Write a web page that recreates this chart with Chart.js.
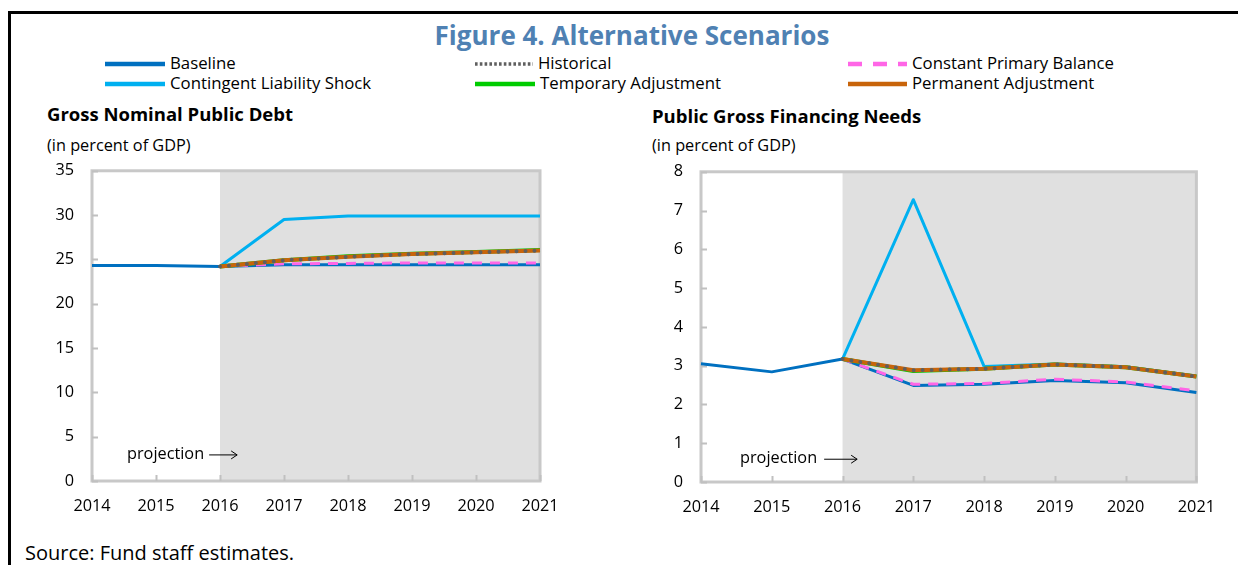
<!DOCTYPE html>
<html>
<head>
<meta charset="utf-8">
<script src="https://cdn.jsdelivr.net/npm/chart.js@4.4.1/dist/chart.umd.min.js"></script>
<style>
  html, body { margin:0; padding:0; background:#fff; }
  body { width:1238px; height:565px; position:relative; overflow:hidden; font-family:"Open Sans", sans-serif; color:#000; }
  .frame { position:absolute; left:8px; top:11px; width:1240px; height:560px; border-top:3px solid #000; border-left:3px solid #000; box-sizing:border-box; }
  .abs { position:absolute; white-space:nowrap; }
  .title { left:0; width:1264px; text-align:center; top:17px; font-size:26px; font-weight:700; color:#4f81b3; line-height:36px; }
  .leg { font-size:16.8px; line-height:20px; }
  .sub { font-size:18.5px; font-weight:700; line-height:22px; }
  .unit { font-size:16.3px; line-height:20px; }
  .src { font-size:20px; line-height:24px; }
  .box { position:absolute; }
</style>
</head>
<body>
<div class="frame"></div>
<div class="abs title">Figure 4. Alternative Scenarios</div>
<div id="legend"></div>

<div class="abs sub" style="left:47px; top:103px;">Gross Nominal Public Debt</div>
<div class="abs unit" style="left:47px; top:135px;">(in percent of GDP)</div>
<div class="abs sub" style="left:652px; top:105px;">Public Gross Financing Needs</div>
<div class="abs unit" style="left:652px; top:135px;">(in percent of GDP)</div>
<div class="abs src" style="left:25px; top:541px;">Source: Fund staff estimates.</div>

<div class="box" style="left:0px; top:143px; width:580px; height:387px;"><canvas id="c1"></canvas></div>
<div class="box" style="left:600px; top:144px; width:631px; height:386px;"><canvas id="c2"></canvas></div>

<script>
// ---------- DATA ----------
const years = ['2014','2015','2016','2017','2018','2019','2020','2021'];
const seriesNames = ['Baseline','Historical','Constant Primary Balance','Contingent Liability Shock','Temporary Adjustment','Permanent Adjustment'];

// Gross Nominal Public Debt (percent of GDP)
const debtBaseline    = [24.3, 24.3, 24.2, 24.4, 24.4, 24.4, 24.4, 24.4];
const debtHistorical  = [null, null, 24.2, 24.9, 25.3, 25.6, 25.8, 26.0];
const debtCPB         = [null, null, 24.2, 24.5, 24.55, 24.6, 24.6, 24.6];
const debtContingent  = [null, null, 24.2, 29.5, 29.9, 29.9, 29.9, 29.9];
const debtTemporary   = [null, null, 24.2, 24.9, 25.35, 25.65, 25.85, 26.05];
const debtPermanent   = [null, null, 24.2, 24.9, 25.3, 25.6, 25.8, 26.0];
const debtTicks       = [0, 5, 10, 15, 20, 25, 30, 35];

// Public Gross Financing Needs (percent of GDP)
const gfnBaseline     = [3.05, 2.84, 3.17, 2.49, 2.52, 2.62, 2.56, 2.31];
const gfnHistorical   = [null, null, 3.17, 2.88, 2.92, 3.03, 2.96, 2.72];
const gfnCPB          = [null, null, 3.17, 2.52, 2.54, 2.65, 2.58, 2.35];
const gfnContingent   = [null, null, 3.17, 7.28, 2.98, 3.04, 2.97, 2.73];
const gfnTemporary    = [null, null, 3.17, 2.86, 2.92, 3.03, 2.96, 2.72];
const gfnPermanent    = [null, null, 3.17, 2.88, 2.92, 3.03, 2.96, 2.72];
const gfnTicks        = [0, 1, 2, 3, 4, 5, 6, 7, 8];

// ---------- STYLES ----------
const colors = {
  baseline:'#0070c0', historical:'#5f5f5f', cpb:'#ff66e6',
  contingent:'#00b0f0', temporary:'#00cc00', permanent:'#c8640a'
};

// ---------- LEGEND (HTML) ----------
(function(){
  const L = document.getElementById('legend');
  const items = [
    {name:seriesNames[0], x:105, tx:170, y:64, stroke:colors.baseline, w:4.5, dash:''},
    {name:seriesNames[1], x:475, tx:538, y:64, stroke:colors.historical, w:3.5, dash:'2.6,2.2'},
    {name:seriesNames[2], x:848, tx:912, y:64, stroke:colors.cpb, w:4.5, dash:'14,11'},
    {name:seriesNames[3], x:105, tx:170, y:84, stroke:colors.contingent, w:4.5, dash:''},
    {name:seriesNames[4], x:475, tx:540, y:84, stroke:colors.temporary, w:4.5, dash:''},
    {name:seriesNames[5], x:848, tx:912, y:84, stroke:colors.permanent, w:4.5, dash:''}
  ];
  items.forEach(it=>{
    const len = it.tx - it.x - 5;
    const svg = `<svg class="abs" style="left:${it.x}px; top:${it.y-5}px;" width="${len}" height="10"><line x1="0" y1="5" x2="${len}" y2="5" stroke="${it.stroke}" stroke-width="${it.w}" ${it.dash?`stroke-dasharray="${it.dash}"`:''}/></svg>`;
    L.insertAdjacentHTML('beforeend', svg);
    L.insertAdjacentHTML('beforeend', `<div class="abs leg" style="left:${it.tx}px; top:${it.y-11}px;">${it.name}</div>`);
  });
})();

// ---------- DECORATION PLUGIN ----------
const decor = {
  id:'decor',
  beforeDatasetsDraw(chart, args, opts){
    const {ctx, chartArea:a, scales:{x, y}} = chart;
    ctx.save();
    const sx = x.getPixelForValue(opts.shadeFrom);
    ctx.fillStyle = '#e0e0e0';
    ctx.fillRect(sx, a.top, a.right - sx, a.bottom - a.top);
    // plot border
    ctx.lineWidth = 3;
    ctx.strokeStyle = '#c8c8c8';
    ctx.strokeRect(a.left, a.top, a.right - a.left, a.bottom - a.top);
    // tick marks (inward)
    ctx.lineWidth = 2;
    ctx.strokeStyle = '#c0c0c0';
    ctx.beginPath();
    for (let i = 0; i < y.ticks.length; i++) {
      const py = Math.round(y.getPixelForTick(i)) + 0.5;
      ctx.moveTo(a.left, py); ctx.lineTo(a.left + 6, py);
    }
    for (let i = 0; i < x.ticks.length; i++) {
      const px = Math.round(x.getPixelForTick(i)) + 0.5;
      ctx.moveTo(px, a.bottom); ctx.lineTo(px, a.bottom - 6);
    }
    ctx.stroke();
    // projection label + arrow
    ctx.font = '16.3px "Open Sans"';
    ctx.fillStyle = '#000';
    ctx.textBaseline = 'middle';
    const tx = a.left + opts.projDx;
    const ty = y.getPixelForValue(opts.projY);
    ctx.fillText('projection', tx, ty);
    const w = ctx.measureText('projection').width;
    const ax0 = tx + w + opts.arrowGap, ax1 = ax0 + opts.arrowLen;
    ctx.strokeStyle = '#000'; ctx.lineWidth = 1;
    ctx.beginPath();
    ctx.moveTo(ax0, ty + 0.5); ctx.lineTo(ax1, ty + 0.5);
    ctx.moveTo(ax1 - 6, ty - 3.5); ctx.lineTo(ax1, ty + 0.5); ctx.lineTo(ax1 - 6, ty + 4.5);
    ctx.stroke();
    ctx.restore();
  }
};

function makeDatasets(b, h, c, k, t, p){
  return [
    {label:seriesNames[1], data:h, borderColor:colors.historical, borderWidth:4, borderDash:[0, 9], borderCapStyle:'round', order:0},
    {label:seriesNames[5], data:p, borderColor:colors.permanent, borderWidth:4, order:1},
    {label:seriesNames[4], data:t, borderColor:colors.temporary, borderWidth:4, order:2},
    {label:seriesNames[2], data:c, borderColor:colors.cpb, borderWidth:3, borderDash:[10, 8], order:3},
    {label:seriesNames[0], data:b, borderColor:colors.baseline, borderWidth:3, order:4},
    {label:seriesNames[3], data:k, borderColor:colors.contingent, borderWidth:3, order:5}
  ];
}

function makeChart(id, ds, ticks, yMax, yAxisWidth, padRight, padTop, xHeight, proj){
  return new Chart(document.getElementById(id), {
    type:'line',
    data:{ labels:years, datasets:ds },
    options:{
      responsive:true, maintainAspectRatio:false, animation:false,
      layout:{ padding:{ left:0, right:padRight, top:padTop, bottom:0 } },
      elements:{ point:{ radius:0, hoverRadius:0 }, line:{ tension:0, fill:false, borderJoinStyle:'round' } },
      plugins:{ legend:{ display:false }, tooltip:{ enabled:false }, decor:proj },
      scales:{
        x:{
          type:'category', offset:false,
          grid:{ display:false, drawTicks:false }, border:{ display:false },
          ticks:{ color:'#000', font:{ family:'"Open Sans"', size:16.3 }, padding:16, maxRotation:0, autoSkip:false },
          afterFit(s){ s.height = xHeight; }
        },
        y:{
          min:0, max:yMax,
          afterBuildTicks(s){ s.ticks = ticks.map(v=>({value:v})); },
          grid:{ display:false, drawTicks:false }, border:{ display:false },
          ticks:{ color:'#000', font:{ family:'"Open Sans"', size:16.3 }, padding:18 },
          afterFit(s){ s.width = yAxisWidth; }
        }
      }
    },
    plugins:[decor]
  });
}

function draw(){
  makeChart('c1', makeDatasets(debtBaseline, debtHistorical, debtCPB, debtContingent, debtTemporary, debtPermanent),
    debtTicks, 35, 92, 40, 0, 49, {shadeFrom:2, projDx:35, projY:3.0, arrowGap:5, arrowLen:28});
  makeChart('c2', makeDatasets(gfnBaseline, gfnHistorical, gfnCPB, gfnContingent, gfnTemporary, gfnPermanent),
    gfnTicks, 8, 101, 0, 0, 48, {shadeFrom:2, projDx:39, projY:0.6, arrowGap:7, arrowLen:33});
}
if (document.fonts && document.fonts.load) {
  Promise.all([document.fonts.load('15px "Open Sans"'), document.fonts.load('bold 17px "Open Sans"')]).then(draw, draw);
} else draw();
</script>
</body>
</html>
